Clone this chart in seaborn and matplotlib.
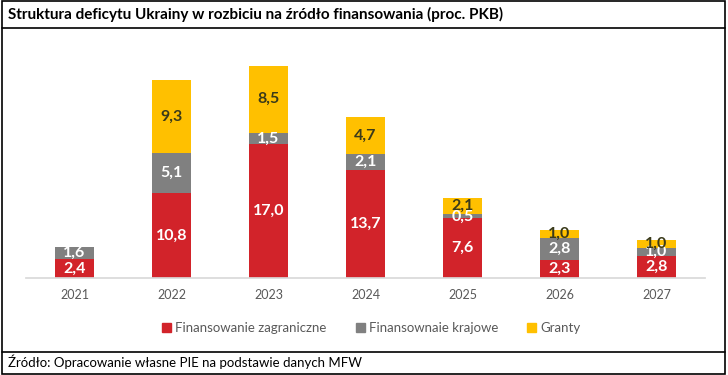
import matplotlib
matplotlib.use("Agg")
import matplotlib.pyplot as plt
import numpy as np
import pandas as pd
import seaborn as sns
from matplotlib import font_manager
from matplotlib.lines import Line2D
from matplotlib.patches import Patch, Rectangle

years = ["2021", "2022", "2023", "2024", "2025", "2026", "2027"]
zagraniczne = [2.4, 10.8, 17.0, 13.7, 7.6, 2.3, 2.8]
krajowe = [1.6, 5.1, 1.5, 2.1, 0.5, 2.8, 1.0]
granty = [0.0, 9.3, 8.5, 4.7, 2.1, 1.0, 1.0]

labels = ["Finansowanie zagraniczne", "Finansownaie krajowe", "Granty"]
colors = ["#D2232A", "#808080", "#FFC000"]

sns.set_theme(style="white")
plt.rcParams["font.family"] = ["Lato", "DejaVu Sans"]

names = {f.name for f in font_manager.fontManager.ttflist}
narrow = "Liberation Sans Narrow" in names

df = pd.DataFrame({"rok": years, "zag": zagraniczne, "kraj": krajowe, "gr": granty})
df["c1"] = df["zag"]
df["c2"] = df["zag"] + df["kraj"]
df["c3"] = df["c2"] + df["gr"]

fig = plt.figure(figsize=(7.28, 3.75), dpi=100)
ax = fig.add_axes([0.0357, 0.2587, 0.9327, 0.6347])

# stacked look: draw cumulative totals from top layer down
for col, c in [("c3", colors[2]), ("c2", colors[1]), ("c1", colors[0])]:
    sns.barplot(data=df, x="rok", y=col, color=c, width=0.41, ax=ax,
                saturation=1, edgecolor="none")

for i in range(len(years)):
    segs = [(0, zagraniczne[i], "white"),
            (zagraniczne[i], krajowe[i], "white"),
            (zagraniczne[i] + krajowe[i], granty[i], "#3a3a1a")]
    for base, v, tc in segs:
        if v <= 0:
            continue
        ax.text(i, base + v / 2, f"{v:.1f}".replace(".", ","), ha="center",
                va="center", fontsize=11.5, fontweight="bold", color=tc)

ax.set_ylim(0, 30.3)
ax.set_xlim(-0.5, 6.5)
ax.set_xlabel("")
ax.set_ylabel("")
ax.set_yticks([])
sns.despine(ax=ax, left=True)
ax.spines["bottom"].set_color("#d9d9d9")
ax.tick_params(axis="x", length=0, labelsize=9, labelcolor="#595959", pad=8)

handles = [Patch(color=c) for c in colors]
fig.legend(handles, labels, loc="center", bbox_to_anchor=(0.51, 1 - 328 / 375),
           ncol=3, frameon=False, fontsize=9.5, labelcolor="#595959",
           handlelength=0.7, handleheight=0.7, handletextpad=0.3, columnspacing=2.2)

fig.text(8 / 728, 1 - 14 / 375, "Struktura deficytu Ukrainy w rozbiciu na źródło finansowania (proc. PKB)",
         ha="left", va="center", fontsize=11, fontweight="bold", color="black")
if narrow:
    fig.text(8 / 728, 1 - 362 / 375, "Źródło: Opracowanie własne PIE na podstawie danych MFW",
             ha="left", va="center", fontsize=11, color="black",
             family=["Liberation Sans Narrow", "DejaVu Sans"])
else:
    fig.text(8 / 728, 1 - 362 / 375, "Źródło: Opracowanie własne PIE na podstawie danych MFW",
             ha="left", va="center", fontsize=9.5, color="black")

fig.add_artist(Line2D([2 / 728, 725 / 728], [1 - 28 / 375] * 2, color="black", lw=1.2))
fig.add_artist(Line2D([2 / 728, 725 / 728], [1 - 352 / 375] * 2, color="black", lw=1.2))
fig.add_artist(Rectangle((2 / 728, 1 / 375), 723 / 728, 373 / 375, fill=False,
                         edgecolor="black", lw=1.2))

fig.savefig("out.png", dpi=100)
